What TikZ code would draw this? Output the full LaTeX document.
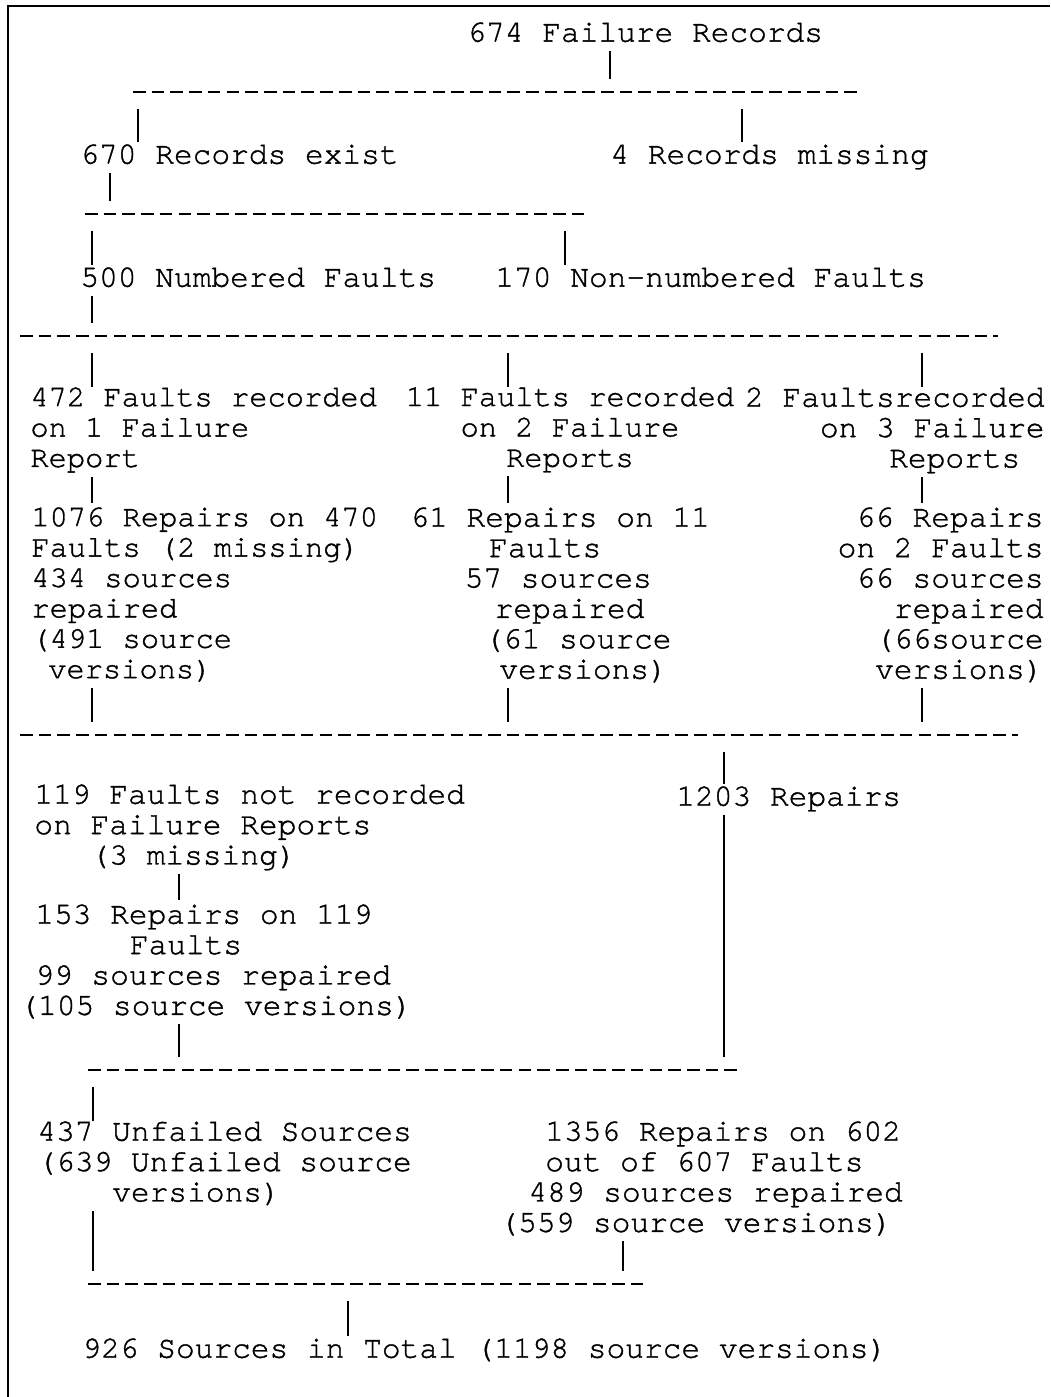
\documentclass[tikz,border=0pt]{standalone}
\usepackage{fontspec}
\newfontfamily\courfont[FakeBold=1.2]{texgyrecursor-regular.otf}
\newlength{\chw}
\setlength{\chw}{9.36pt}
\newcommand{\ind}[1]{\hspace*{#1\chw}}
\newcommand{\txtfont}{\courfont\fontsize{15.6pt}{15.2pt}\selectfont\lineskiplimit=-100pt\relax}
\newcommand{\narrowfont}{\courfont\fontsize{15.2pt}{15.2pt}\selectfont\lineskiplimit=-100pt\relax}

\begin{document}
\begin{tikzpicture}[
      x=0.5pt, y=-0.5pt,
      txt/.style={font=\txtfont, inner sep=0pt, anchor=north west, align=left,
        execute at begin node=\strut, execute at end node=\strut},
      narrow/.style={txt, font=\narrowfont},
      bus/.style={line width=1pt, dash pattern=on 6.3pt off 3.06pt},
      bar/.style={line width=0.8pt},
      up/.style={bar, shorten >=6.5pt},
      down/.style={bar, shorten <=8.5pt},
      link/.style={bar, shorten >=2pt}
    ]
    \useasboundingbox (0,0) rectangle (1050,1397);
    \draw[line width=1pt] (8,1397) -- (8,6) -- (1050,6);

    % Records
    \node[txt] (all) at (467,20) {674 Failure Records};
    \node[txt] (exist) at (80,142) {670 Records exist};
    \node[txt] (missing) at (610,142) {4 Records missing};
    \node[txt] (numbered) at (80,265) {500 Numbered Faults};
    \node[txt] (nonnumbered) at (495,265) {170 Non-numbered Faults};

    % Faults on failure reports
    \node[narrow] (fr1) at (30,387) {472 Faults recorded\\on 1 Failure\\Report};
    \node[narrow, anchor=north, align=center] (fr2) at (570,387) {11 Faults recorded\\on 2 Failure\\Reports};
    \node[txt, anchor=north east, align=right] (fr3) at (1045,387) {2 Faultsrecorded\\on 3 Failure\\Reports\makebox[1.3\chw]{}};

    \node[narrow] (rep1) at (31,507) {1076 Repairs on 470\\Faults (2 missing)\\434 sources\\repaired\\(491 source\\\ind{0.9}versions)};
    \node[txt] (rep2) at (410,507) {61 Repairs on 11\\\ind{4.2}Faults\\\ind{2.9}57 sources\\\ind{4.5}repaired\\\ind{3.95}(61 source\\\ind{4.75}versions)};
    \node[txt, anchor=north east, align=right] (rep3) at (1044,507) {66 Repairs\\on 2 Faults\\66 sources\\repaired\\(66source\\versions)};

    % Faults not on failure reports
    \node[txt] (notrec) at (34,784) {119 Faults not recorded\\on Failure Reports\\\ind{3}(3 missing)};
    \node[txt] (rep4) at (19,904) {\ind{0.85}153 Repairs on 119\\\ind{5.9}Faults\\\ind{0.85}99 sources repaired\\(105 source versions)};
    \node[txt] (sum) at (676,784) {1203 Repairs};

    % Sources
    \node[txt] (unfailed) at (37,1121) {437 Unfailed Sources\\(639 Unfailed source\\\ind{4}versions)};
    \node[txt] (rep5) at (499,1121) {\ind{2.45}1356 Repairs on 602\\\ind{2.45}out of 607 Faults\\\ind{1.55}489 sources repaired\\(559 source versions)};
    \node[txt] (total) at (82,1336) {926 Sources in Total (1198 source versions)};

    % Dashed lines
    \coordinate (b1w) at (133,92);   \coordinate (b1e) at (863,92);
    \coordinate (b2w) at (85,214);   \coordinate (b2e) at (590,214);
    \coordinate (b3w) at (20,336);   \coordinate (b3e) at (998,336);
    \coordinate (b4w) at (20,735);   \coordinate (b4e) at (1018,735);
    \coordinate (b5w) at (88,1070);  \coordinate (b5e) at (742,1070);
    \coordinate (b6w) at (88,1284);  \coordinate (b6e) at (648,1284);
    \draw[bus] (b1w) -- (b1e);
    \draw[bus] (b2w) -- (b2e);
    \draw[bus] (b3w) -- (b3e);
    \draw[bus] (b4w) -- (b4e);
    \draw[bus] (b5w) -- (b5e);
    \draw[bus] (b6w) -- (b6e);

    % Taps on the dashed lines
    \coordinate (t1a) at (610,92);  \coordinate (t1b) at (138,92);  \coordinate (t1c) at (742,92);
    \coordinate (t2a) at (110,214); \coordinate (t2b) at (92,214);  \coordinate (t2c) at (565,214);
    \coordinate (t3a) at (92,336);  \coordinate (t3b) at (508,336); \coordinate (t3c) at (922,336);
    \coordinate (t4a) at (92,735);  \coordinate (t4b) at (508,735); \coordinate (t4c) at (922,735);
    \coordinate (t4d) at (724,735);
    \coordinate (t5a) at (179,1070); \coordinate (t5b) at (724,1070); \coordinate (t5c) at (93,1070);
    \coordinate (t6a) at (93,1284);  \coordinate (t6b) at (623,1284); \coordinate (t6c) at (348,1284);

    % Bars
    \draw[up] (t1a |- all.south) -- (t1a);
    \draw[down] (t1b) -- (t1b |- exist.north);
    \draw[down] (t1c) -- (t1c |- missing.north);
    \draw[up] (t2a |- exist.south) -- (t2a);
    \draw[down] (t2b) -- (t2b |- numbered.north);
    \draw[down] (t2c) -- (t2c |- nonnumbered.north);
    \draw[up] (t3a |- numbered.south) -- (t3a);
    \draw[down] (t3a) -- (t3a |- fr1.north);
    \draw[down] (t3b) -- (t3b |- fr2.north);
    \draw[down] (t3c) -- (t3c |- fr3.north);
    \draw[link] (t3a |- fr1.south) -- (t3a |- rep1.north);
    \draw[link] (t3b |- fr2.south) -- (t3b |- rep2.north);
    \draw[link] (t3c |- fr3.south) -- (t3c |- rep3.north);
    \draw[up] (t4a |- rep1.south) -- (t4a);
    \draw[up] (t4b |- rep2.south) -- (t4b);
    \draw[up] (t4c |- rep3.south) -- (t4c);
    \draw[down] (t4d) -- (t4d |- sum.north);
    \draw[up] (t5b |- sum.south) -- (t5b);
    \draw[link] (t5a |- notrec.south) -- (t5a |- rep4.north);
    \draw[up] (t5a |- rep4.south) -- (t5a);
    \draw[down] (t5c) -- (t5c |- unfailed.north);
    \draw[up] (t6a |- unfailed.south) -- (t6a);
    \draw[up] (t6b |- rep5.south) -- (t6b);
    \draw[down] (t6c) -- (t6c |- total.north);

  \end{tikzpicture}
\end{document}
